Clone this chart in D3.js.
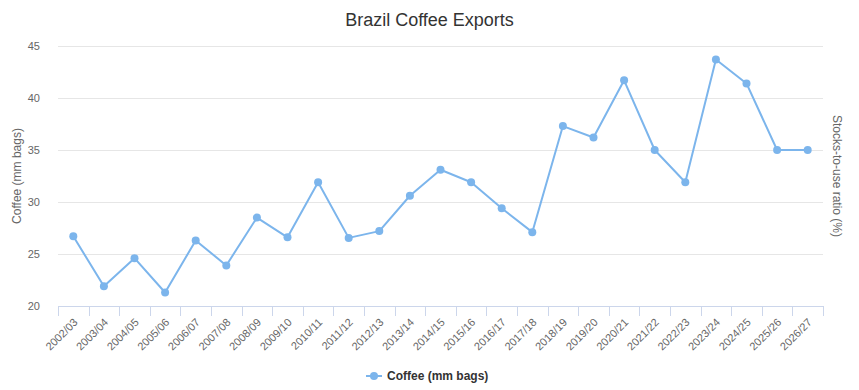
<!DOCTYPE html>
<html>
<head>
<meta charset="utf-8">
<script src="https://cdn.jsdelivr.net/npm/d3@7"></script>
<style>
  body { margin: 0; background: #fff; }
  svg { font-family: "Liberation Sans", Arial, sans-serif; }
</style>
</head>
<body>
<div id="chart"></div>
<script>
const seasons = ['2002/03', '2003/04', '2004/05', '2005/06', '2006/07', '2007/08', '2008/09',
    '2009/10', '2010/11', '2011/12', '2012/13', '2013/14', '2014/15', '2015/16', '2016/17',
    '2017/18', '2018/19', '2019/20', '2020/21', '2021/22', '2022/23', '2023/24', '2024/25',
    '2025/26', '2026/27'];
const coffee = [26.7, 21.9, 24.6, 21.3, 26.3, 23.9, 28.5, 26.6, 31.9, 26.55, 27.2, 30.6, 33.1,
    31.9, 29.4, 27.1, 37.3, 36.2, 41.7, 35.0, 31.9, 43.7, 41.4, 35.0, 35.0];
const yTicks = [20, 25, 30, 35, 40, 45];

const W = 859, H = 390;
const margin = { top: 46, right: 36, bottom: 84, left: 58 };
const width = W - margin.left - margin.right;
const height = H - margin.top - margin.bottom;

const svg = d3.select('#chart')
    .append('svg')
    .attr('width', W)
    .attr('height', H);

const g = svg.append('g')
    .attr('transform', 'translate(' + margin.left + ',' + margin.top + ')');

const x = d3.scaleBand()
    .domain(seasons)
    .range([0, width]);

const y = d3.scaleLinear()
    .domain([20, 45])
    .range([height, 0]);

// gridlines
g.append('g')
    .selectAll('line')
    .data(yTicks.filter(t => t > 20))
    .join('line')
    .attr('x1', 0)
    .attr('x2', width)
    .attr('y1', d => y(d) + 0.5)
    .attr('y2', d => y(d) + 0.5)
    .attr('stroke', '#e6e6e6');

// y labels
g.append('g')
    .selectAll('text')
    .data(yTicks)
    .join('text')
    .attr('x', -18)
    .attr('y', d => y(d))
    .attr('dy', '0.35em')
    .attr('text-anchor', 'end')
    .attr('fill', '#666')
    .style('font-size', '11px')
    .text(d => d);

// x axis
const xAxis = g.append('g')
    .attr('transform', 'translate(0,' + height + ')');
xAxis.append('line')
    .attr('x1', 0).attr('x2', width)
    .attr('y1', 0.5).attr('y2', 0.5)
    .attr('stroke', '#ccd6eb');
xAxis.selectAll('.tick')
    .data(seasons.concat(['end']))
    .join('line')
    .attr('class', 'tick')
    .attr('x1', (d, i) => Math.round(i * x.step()) + 0.5)
    .attr('x2', (d, i) => Math.round(i * x.step()) + 0.5)
    .attr('y1', 0)
    .attr('y2', 10)
    .attr('stroke', '#ccd6eb');
xAxis.selectAll('.lab')
    .data(seasons)
    .join('text')
    .attr('class', 'lab')
    .attr('text-anchor', 'end')
    .attr('fill', '#666')
    .style('font-size', '11px')
    .attr('transform', d => 'translate(' + (x(d) + x.bandwidth() / 2 + 5) + ',17) rotate(-45)')
    .text(d => d);

// line
const line = d3.line()
    .x((d, i) => x(seasons[i]) + x.bandwidth() / 2)
    .y(d => y(d));

g.append('path')
    .datum(coffee)
    .attr('fill', 'none')
    .attr('stroke', '#7cb5ec')
    .attr('stroke-width', 2)
    .attr('stroke-linejoin', 'round')
    .attr('d', line);

g.append('g')
    .selectAll('circle')
    .data(coffee)
    .join('circle')
    .attr('cx', (d, i) => x(seasons[i]) + x.bandwidth() / 2)
    .attr('cy', d => y(d))
    .attr('r', 4)
    .attr('fill', '#7cb5ec');

// title
svg.append('text')
    .attr('x', W / 2)
    .attr('y', 26)
    .attr('text-anchor', 'middle')
    .attr('fill', '#333')
    .style('font-size', '18px')
    .text('Brazil Coffee Exports');

// axis titles
svg.append('text')
    .attr('transform', 'translate(21,' + (margin.top + height / 2) + ') rotate(-90)')
    .attr('text-anchor', 'middle')
    .attr('fill', '#666')
    .style('font-size', '12px')
    .text('Coffee (mm bags)');

svg.append('text')
    .attr('transform', 'translate(833,' + (margin.top + height / 2) + ') rotate(90)')
    .attr('text-anchor', 'middle')
    .attr('fill', '#666')
    .style('font-size', '12px')
    .text('Stocks-to-use ratio (%)');

// legend
const legend = svg.append('g').attr('transform', 'translate(366,376)');
legend.append('line')
    .attr('x1', 0).attr('x2', 16)
    .attr('y1', 0).attr('y2', 0)
    .attr('stroke', '#7cb5ec')
    .attr('stroke-width', 2);
legend.append('circle')
    .attr('cx', 8).attr('cy', 0).attr('r', 4)
    .attr('fill', '#7cb5ec');
legend.append('text')
    .attr('x', 21)
    .attr('y', 0)
    .attr('dy', '0.35em')
    .attr('fill', '#333')
    .style('font-size', '12px')
    .style('font-weight', 'bold')
    .text('Coffee (mm bags)');
</script>
</body>
</html>
